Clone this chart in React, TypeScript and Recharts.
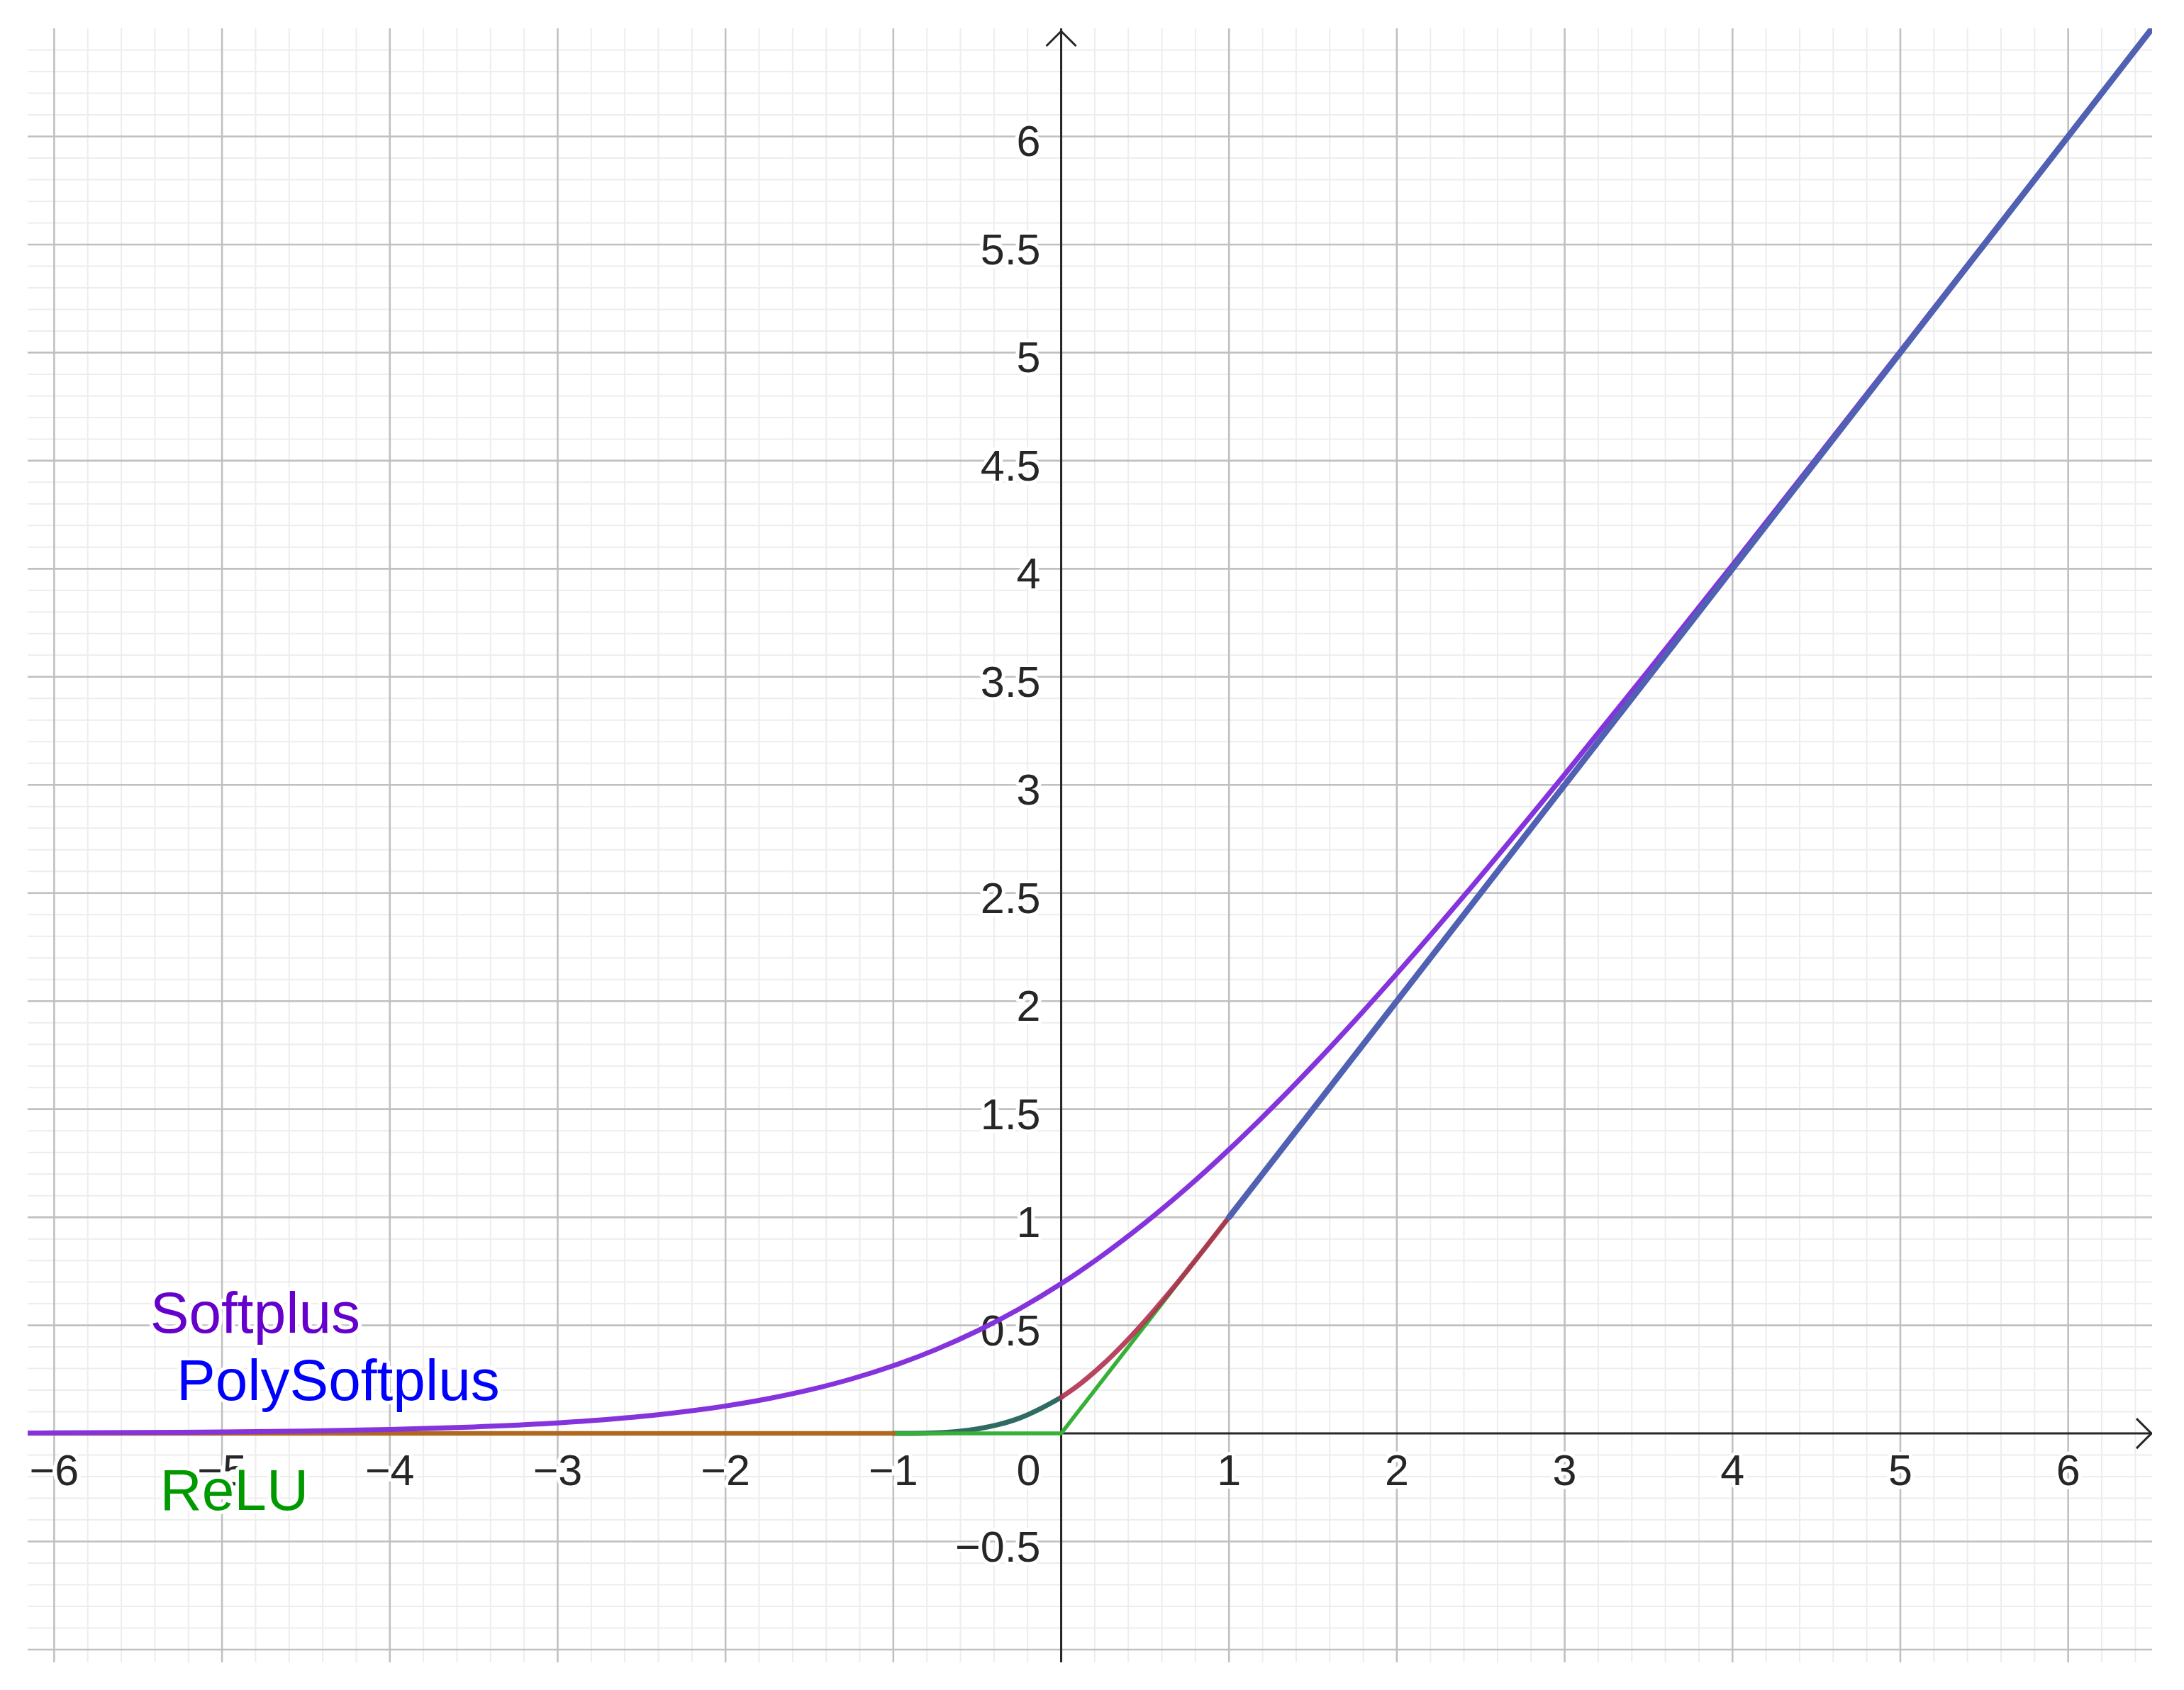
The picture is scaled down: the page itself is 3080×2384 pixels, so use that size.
import { ComposedChart, XAxis, YAxis, Line, Scatter, ReferenceLine } from "recharts";

// view window (GeoGebra graphics view)
const xDomain = [-6.158, 6.5];
const yDomain = [-1.059, 6.5];

// axis labels
const xTicks = [-6, -5, -4, -3, -2, -1, 1, 2, 3, 4, 5, 6];
const xTickLabels = ["−6", "−5", "−4", "−3", "−2", "−1", "1", "2", "3", "4", "5", "6"];
const yTicks = [-0.5, 0.5, 1, 1.5, 2, 2.5, 3, 3.5, 4, 4.5, 5, 5.5, 6];
const yTickLabels = ["−0.5", "0.5", "1", "1.5", "2", "2.5", "3", "3.5", "4", "4.5", "5", "5.5", "6"];
const yMajorGrid = [-1, -0.5, 0.5, 1, 1.5, 2, 2.5, 3, 3.5, 4, 4.5, 5, 5.5, 6];
const xMajorGrid = [-6, -5, -4, -3, -2, -1, 1, 2, 3, 4, 5, 6];

// Softplus
const softX = [-6.158, -6, -5.5, -5, -4.5, -4, -3.5, -3, -2.5, -2, -1.75, -1.5, -1.25, -1, -0.75, -0.5, -0.25, 0, 0.25, 0.5, 0.75, 1, 1.25, 1.5, 1.75, 2, 2.5, 3, 3.5, 4, 4.5, 5, 5.5, 6, 6.5];
const softY = [0.0021, 0.0025, 0.0041, 0.0067, 0.011, 0.0181, 0.0298, 0.0486, 0.0789, 0.1269, 0.1602, 0.2014, 0.2519, 0.3133, 0.3868, 0.4741, 0.5759, 0.6931, 0.8259, 0.9741, 1.1368, 1.3133, 1.5019, 1.7014, 1.9102, 2.1269, 2.5789, 3.0486, 3.5298, 4.0181, 4.511, 5.0067, 5.5041, 6.0025, 6.5015];

// PolySoftplus, drawn in four pieces
const polyLeftX = [-6.158, -1];
const polyLeftY = [0, 0];
const polyCubicX = [-1, -0.875, -0.75, -0.625, -0.5, -0.375, -0.25, -0.125, 0];
const polyCubicY = [0, 0.0003, 0.0026, 0.0088, 0.0208, 0.0407, 0.0703, 0.1139, 0.1667];
const polyBendX = [0, 0.125, 0.25, 0.375, 0.5, 0.625, 0.75, 0.875, 1];
const polyBendY = [0.1667, 0.2367, 0.3203, 0.4157, 0.5208, 0.6338, 0.7526, 0.8753, 1];
const polyRightX = [1, 6.5];
const polyRightY = [1, 6.5];

// ReLU
const reluX = [-6.158, 0, 6.5];
const reluY = [0, 0, 6.5];

// curve captions: x of text start, y of baseline
const captions = [
  { x: -5.428, y: 0.465, label: "Softplus", color: "#6600cc" },
  { x: -5.271, y: 0.154, label: "PolySoftplus", color: "#0000ff" },
  { x: -5.37, y: -0.354, label: "ReLU", color: "#009900" },
];

const zip = (xs: number[], ys: number[]) => xs.map((x, i) => ({ x, y: ys[i] }));

const minorX: number[] = [];
for (let i = -30; i <= 32; i++) if (i % 5 !== 0) minorX.push(i / 5);
const minorY: number[] = [];
for (let i = -10; i <= 64; i++) if (i % 5 !== 0) minorY.push(i / 10);

const FONT = "'Liberation Sans', Arial, sans-serif";
const INK = "#262626";

const halo = { stroke: "#ffffff", strokeWidth: 10, paintOrder: "stroke" as const, strokeLinejoin: "round" as const };

const XLabel = (p: any) => (
  <text x={p.cx} y={p.cy + 73} textAnchor='middle' fontSize={61} fontFamily={FONT} fill={INK} {...halo}>
    {p.payload.label}
  </text>
);
const YLabel = (p: any) => (
  <text x={p.cx - 29} y={p.cy + 28} textAnchor='end' fontSize={61} fontFamily={FONT} fill={INK} {...halo}>
    {p.payload.label}
  </text>
);
const OriginLabel = (p: any) => (
  <text x={p.cx - 29} y={p.cy + 73} textAnchor='end' fontSize={61} fontFamily={FONT} fill={INK} {...halo}>
    0
  </text>
);
const Caption = (p: any) => (
  <text x={p.cx} y={p.cy} textAnchor='start' fontSize={82} fontFamily={FONT} fill={p.payload.color} {...halo}>
    {p.payload.label}
  </text>
);
const XArrow = (p: any) => (
  <path d={`M${p.cx - 22},${p.cy - 21}L${p.cx - 1},${p.cy}L${p.cx - 22},${p.cy + 21}`} stroke={INK} strokeWidth={3} fill='none' />
);
const YArrow = (p: any) => (
  <path d={`M${p.cx - 21},${p.cy + 22}L${p.cx},${p.cy + 1}L${p.cx + 21},${p.cy + 22}`} stroke={INK} strokeWidth={3} fill='none' />
);

export default function App(): JSX.Element {
  const curve = { type: "monotone" as const, dataKey: "y", dot: false, activeDot: false, isAnimationActive: false, strokeLinecap: "round" as const, strokeLinejoin: "round" as const };
  return (
    <div style={{ position: "absolute", left: 0, top: 0, background: "#fff" }}>
      <ComposedChart width={3080} height={2384} margin={{ top: 40, right: 45, bottom: 39, left: 39 }}>
        <XAxis type='number' dataKey='x' domain={xDomain} allowDataOverflow hide />
        <YAxis type='number' dataKey='y' domain={yDomain} allowDataOverflow hide />
        {minorX.map((v) => (
          <ReferenceLine key={"mx" + v} x={v} stroke='#ededed' strokeWidth={2} zIndex={-300} />
        ))}
        {minorY.map((v) => (
          <ReferenceLine key={"my" + v} y={v} stroke='#ededed' strokeWidth={2} zIndex={-300} />
        ))}
        {xMajorGrid.map((v) => (
          <ReferenceLine key={"Mx" + v} x={v} stroke='#c0c0c0' strokeWidth={2.6} zIndex={-250} />
        ))}
        {yMajorGrid.map((v) => (
          <ReferenceLine key={"My" + v} y={v} stroke='#c0c0c0' strokeWidth={2.6} zIndex={-250} />
        ))}
        <ReferenceLine x={0} stroke={INK} strokeWidth={3} zIndex={-200} />
        <ReferenceLine y={0} stroke={INK} strokeWidth={3} zIndex={-200} />
        <Scatter data={[{ x: 6.5, y: 0 }]} dataKey='y' shape={XArrow} isAnimationActive={false} zIndex={-200} />
        <Scatter data={[{ x: 0, y: 6.49 }]} dataKey='y' shape={YArrow} isAnimationActive={false} zIndex={-200} />
        <Scatter data={xTicks.map((x, i) => ({ x, y: 0, label: xTickLabels[i] }))} dataKey='y' shape={XLabel} isAnimationActive={false} zIndex={-150} />
        <Scatter data={yTicks.map((y, i) => ({ x: 0, y, label: yTickLabels[i] }))} dataKey='y' shape={YLabel} isAnimationActive={false} zIndex={-150} />
        <Scatter data={[{ x: 0, y: 0 }]} dataKey='y' shape={OriginLabel} isAnimationActive={false} zIndex={-150} />
        <Line {...curve} data={zip(polyCubicX, polyCubicY)} stroke='#2f6b62' strokeWidth={7} zIndex={100} />
        <Line {...curve} data={zip(reluX, reluY)} type='linear' stroke='#36b036' strokeWidth={5.5} zIndex={110} />
        <Line {...curve} data={zip(polyLeftX, polyLeftY)} type='linear' stroke='#b0681f' strokeWidth={6.5} zIndex={120} />
        <Line {...curve} data={zip(polyBendX, polyBendY)} stroke='#b0304f' strokeWidth={7} strokeOpacity={0.9} zIndex={130} />
        <Line {...curve} data={zip(softX, softY)} stroke='#8533dd' strokeWidth={7} zIndex={140} />
        <Line {...curve} data={zip(polyRightX, polyRightY)} type='linear' stroke='#5060b2' strokeWidth={8.5} zIndex={150} />
        <Scatter data={captions} dataKey='y' shape={Caption} isAnimationActive={false} zIndex={2000} />
      </ComposedChart>
    </div>
  );
}
